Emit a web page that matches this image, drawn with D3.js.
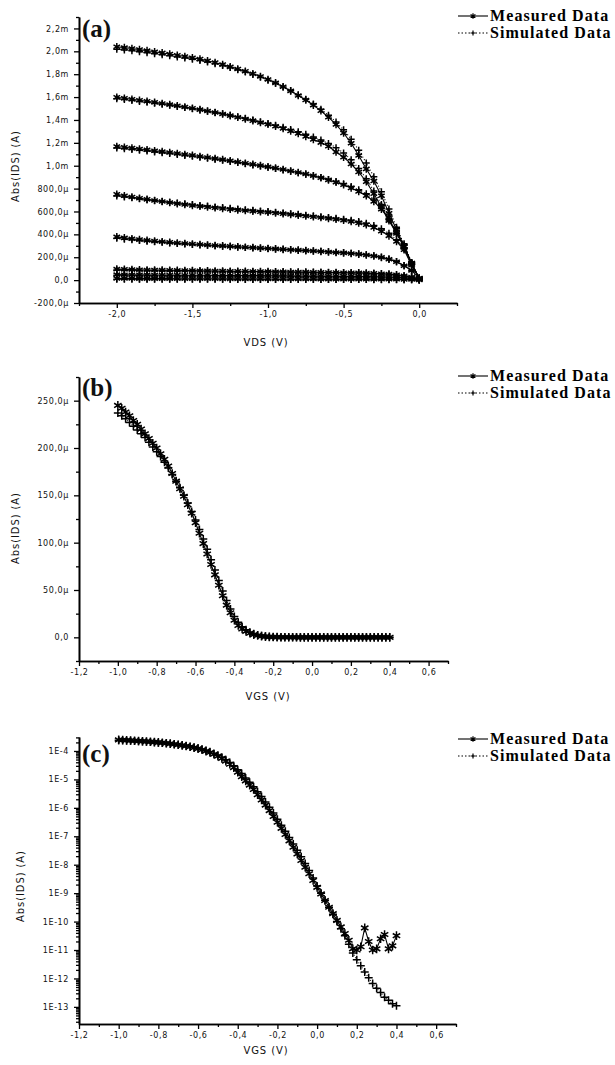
<!DOCTYPE html>
<html><head><meta charset="utf-8">
<script src="https://cdn.jsdelivr.net/npm/d3@7"></script>
<style>body{margin:0;background:#fff}svg{display:block}</style>
</head><body>
<svg id="chart" width="615" height="1065"></svg>
<script>
// ---------- DATA ----------
// Panel (a): output characteristics, VDS in V, |IDS| in µA
const VDS = [-2.00,-1.95,-1.90,-1.85,-1.80,-1.75,-1.70,-1.65,-1.60,-1.55,-1.50,-1.45,-1.40,-1.35,-1.30,-1.25,-1.20,-1.15,-1.10,-1.05,-1.00,-0.95,-0.90,-0.85,-0.80,-0.75,-0.70,-0.65,-0.60,-0.55,-0.50,-0.45,-0.40,-0.35,-0.30,-0.25,-0.20,-0.15,-0.10,-0.05,0.00];
const aMeas1 = [2040,2032,2024,2015,2006,1996,1986,1976,1966,1955,1944,1932,1918,1902,1884,1864,1846,1826,1804,1780,1754,1724,1690,1654,1614,1574,1530,1480,1424,1360,1286,1196,1090,972,866,738,584,440,296,150,15];
const aSim1  = [2018,2011,2004,1996,1988,1979,1970,1961,1951,1941,1930,1919,1906,1892,1876,1858,1839,1819,1797,1773,1748,1720,1689,1656,1620,1582,1540,1493,1441,1382,1314,1232,1136,1024,904,772,622,462,306,152,12];
const aMeas2 = [1598,1590,1581,1572,1563,1554,1544,1534,1524,1513,1502,1490,1478,1465,1452,1438,1424,1409,1394,1378,1362,1345,1326,1304,1281,1256,1230,1202,1170,1120,1075,1015,945,860,755,640,520,408,290,148,15];
const aSim2  = [1585,1578,1570,1562,1554,1545,1537,1528,1518,1509,1499,1488,1477,1466,1454,1441,1428,1414,1400,1385,1370,1353,1336,1317,1297,1275,1251,1224,1194,1158,1112,1052,976,886,780,660,532,408,284,146,12];
const aMeas3 = [1168,1161,1154,1146,1139,1131,1123,1115,1107,1098,1090,1081,1072,1062,1053,1043,1033,1022,1012,1001,990,979,967,954,941,927,912,895,876,856,833,806,775,737,688,620,530,420,295,145,15];
const aSim3  = [1155,1149,1142,1135,1128,1121,1113,1106,1098,1090,1082,1073,1065,1056,1047,1037,1028,1018,1007,997,986,975,963,951,938,925,911,896,880,862,842,818,790,755,710,648,560,448,318,150,12];
const aMeas4 = [750,738,727,716,706,696,687,678,669,661,653,646,639,632,626,620,614,609,603,598,593,587,581,575,568,561,554,547,540,532,523,513,500,484,460,428,387,338,265,130,15];
const aSim4  = [735,727,719,711,703,695,688,681,674,667,660,653,647,640,634,628,622,616,610,605,599,593,587,581,575,568,562,555,548,540,532,523,512,498,478,450,410,352,272,135,12];
const aMeas5 = [378,369,361,354,347,341,335,330,325,320,316,311,307,303,299,295,291,287,284,280,276,273,269,265,262,258,254,250,246,242,238,233,227,220,211,199,183,160,126,85,12];
const aSim5  = [365,358,352,346,340,335,330,325,320,316,312,308,304,300,296,293,289,286,282,279,276,272,269,266,262,259,255,252,248,244,240,235,229,222,213,201,185,162,128,82,10];
const aMeas6 = [96,94,92,91,89,88,87,86,85,84,83,82,81,80,79,78,77,77,76,75,74,73,72,71,70,70,69,68,67,66,65,64,63,61,59,56,52,46,38,26,8];
const aSim6  = [88,87,86,85,84,83,82,81,80,79,79,78,77,76,76,75,74,74,73,72,72,71,70,70,69,68,68,67,66,65,64,63,62,60,58,55,51,45,37,25,6];
const aMeas7 = [48,47,47,46,46,45,45,44,44,43,43,42,42,41,41,40,40,40,39,39,38,38,37,37,36,36,35,35,34,34,33,33,32,31,30,29,27,24,20,14,5];
const aSim7  = [42,42,41,41,41,40,40,40,39,39,39,38,38,38,37,37,37,36,36,36,35,35,35,34,34,34,33,33,33,32,32,31,31,30,29,28,26,23,19,13,4];
const aMeas8 = [14,14,14,13,13,13,13,13,12,12,12,12,12,12,11,11,11,11,11,11,10,10,10,10,10,10,10,9,9,9,9,9,9,8,8,8,7,7,6,5,2];
const aSim8  = [8,8,8,8,8,8,7,7,7,7,7,7,7,7,7,7,6,6,6,6,6,6,6,6,6,6,5,5,5,5,5,5,5,5,4,4,4,4,3,3,1];

// Panels (b) and (c): transfer characteristics, VGS in V, |IDS| in A
const VGS = [-1.00,-0.98,-0.96,-0.94,-0.92,-0.90,-0.88,-0.86,-0.84,-0.82,-0.80,-0.78,-0.76,-0.74,-0.72,-0.70,-0.68,-0.66,-0.64,-0.62,-0.60,-0.58,-0.56,-0.54,-0.52,-0.50,-0.48,-0.46,-0.44,-0.42,-0.40,-0.38,-0.36,-0.34,-0.32,-0.30,-0.28,-0.26,-0.24,-0.22,-0.20,-0.18,-0.16,-0.14,-0.12,-0.10,-0.08,-0.06,-0.04,-0.02,0.00,0.02,0.04,0.06,0.08,0.10,0.12,0.14,0.16,0.18,0.20,0.22,0.24,0.26,0.28,0.30,0.32,0.34,0.36,0.38,0.40];
const tMeas = [2.45e-4,2.42e-4,2.38e-4,2.34e-4,2.29e-4,2.25e-4,2.20e-4,2.15e-4,2.10e-4,2.05e-4,2.00e-4,1.94e-4,1.88e-4,1.81e-4,1.73e-4,1.65e-4,1.57e-4,1.49e-4,1.40e-4,1.31e-4,1.21e-4,1.10e-4,9.9e-5,8.8e-5,7.7e-5,6.6e-5,5.5e-5,4.4e-5,3.4e-5,2.6e-5,1.8e-5,1.25e-5,8.9e-6,6.3e-6,4.4e-6,2.9e-6,1.9e-6,1.25e-6,8.0e-7,5.0e-7,3.1e-7,1.9e-7,1.15e-7,6.9e-8,4.1e-8,2.4e-8,1.4e-8,8.2e-9,4.8e-9,2.8e-9,1.6e-9,9.4e-10,5.5e-10,3.2e-10,1.9e-10,1.1e-10,6.5e-11,3.8e-11,2.2e-11,1.1e-11,1.0e-11,1.3e-11,6.0e-11,2.0e-11,1.0e-11,1.1e-11,2.5e-11,3.5e-11,1.1e-11,1.4e-11,3.2e-11];
const tSim = [2.37e-4,2.34e-4,2.31e-4,2.27e-4,2.23e-4,2.19e-4,2.15e-4,2.11e-4,2.06e-4,2.01e-4,1.96e-4,1.91e-4,1.85e-4,1.79e-4,1.72e-4,1.65e-4,1.58e-4,1.50e-4,1.42e-4,1.33e-4,1.24e-4,1.14e-4,1.04e-4,9.3e-5,8.2e-5,7.1e-5,6.0e-5,4.9e-5,3.9e-5,3.0e-5,2.2e-5,1.6e-5,1.13e-5,7.9e-6,5.5e-6,3.7e-6,2.5e-6,1.6e-6,1.05e-6,6.6e-7,4.0e-7,2.45e-7,1.5e-7,9.0e-8,5.4e-8,3.2e-8,1.9e-8,1.1e-8,6.2e-9,3.4e-9,1.8e-9,1.0e-9,5.6e-10,3.2e-10,1.8e-10,1.0e-10,5.6e-11,3.2e-11,1.6e-11,7.9e-12,4.5e-12,2.8e-12,1.7e-12,1.05e-12,6.6e-13,4.5e-13,3.2e-13,2.2e-13,1.7e-13,1.3e-13,1.1e-13];

// Tick values
const aXTicks = [-2.0,-1.5,-1.0,-0.5,0.0];
const aXMinor = [-2.25,-1.75,-1.25,-0.75,-0.25,0.25];
const aYTicks = [-200,0,200,400,600,800,1000,1200,1400,1600,1800,2000,2200];
const tXTicks = [-1.2,-1.0,-0.8,-0.6,-0.4,-0.2,0.0,0.2,0.4,0.6];
const bYTicks = [0,50e-6,100e-6,150e-6,200e-6,250e-6];
const cYTicks = [1e-13,1e-12,1e-11,1e-10,1e-9,1e-8,1e-7,1e-6,1e-5,1e-4];
const legendLabels = ["Measured Data","Simulated Data"];

// ---------- DRAWING ----------
const svg = d3.select("#chart");
const TICKFONT = "DejaVu Sans, sans-serif";
const starPath = r => { const a = r*0.866, b = r*0.5; return `M0,${-r}V${r}M${-a},${-b}L${a},${b}M${-a},${b}L${a},${-b}`; };
const plusPath = r => `M${-r},0H${r}M0,${-r}V${r}`;
const comma = s => s.replace('.', ',');
const fmtX = v => comma((Math.abs(v) < 1e-9 ? 0 : v).toFixed(1));

function drawAxes(g, x, y, o) {
  const xm = g.append("g").attr("transform", `translate(0,${y.range()[0]})`)
    .call(d3.axisBottom(x).tickValues(o.xMinor).tickSize(3).tickSizeOuter(0).tickFormat(""));
  const ym = g.append("g").attr("transform", `translate(${x.range()[0]},0)`)
    .call(d3.axisLeft(y).tickValues(o.yMinor).tickSize(3).tickSizeOuter(0).tickFormat(""));
  const xa = g.append("g").attr("transform", `translate(0,${y.range()[0]})`)
    .call(d3.axisBottom(x).tickValues(o.xTicks).tickSize(5).tickSizeOuter(0).tickPadding(3).tickFormat(fmtX));
  const ya = g.append("g").attr("transform", `translate(${x.range()[0]},0)`)
    .call(d3.axisLeft(y).tickValues(o.yTicks).tickSize(5).tickSizeOuter(0).tickPadding(5).tickFormat(o.yFmt));
  [xm, ym, xa, ya].forEach(a => {
    a.selectAll("path.domain").attr("stroke", "#000").attr("stroke-width", 1.6);
    a.selectAll(".tick line").attr("stroke", "#000").attr("stroke-width", 1.3);
    a.selectAll("text").attr("font-family", TICKFONT).attr("font-size", 8).attr("fill", "#111").attr("letter-spacing", 0.6);
  });
  g.append("text").attr("x", o.xLab[0]).attr("y", o.xLab[1]).attr("text-anchor", "middle")
    .attr("font-family", TICKFONT).attr("font-size", 10).attr("letter-spacing", 0.9).attr("fill", "#111").text(o.xTitle);
  g.append("text").attr("transform", `translate(${o.yLab[0]},${o.yLab[1]}) rotate(-90)`).attr("text-anchor", "middle")
    .attr("font-family", TICKFONT).attr("font-size", 10).attr("letter-spacing", 0.9).attr("fill", "#111").text("Abs(IDS) (A)");
  g.append("text").attr("x", x.range()[0] + 3).attr("y", o.letterY)
    .attr("font-family", "Liberation Serif, Times New Roman, serif").attr("font-weight", "bold")
    .attr("font-size", 25).attr("fill", "#111").text(o.letter);
}

function drawSeries(g, x, y, xs, ys, kind, r) {
  const pts = xs.map((v, i) => [v, ys[i]]);
  const line = d3.line().x(d => x(d[0])).y(d => y(d[1]));
  g.append("path").datum(pts).attr("d", line).attr("fill", "none").attr("stroke", "#000")
    .attr("stroke-width", 1.1).attr("stroke-dasharray", kind === "sim" ? "1,2" : null);
  g.append("g").selectAll("path").data(pts).join("path")
    .attr("transform", d => `translate(${x(d[0])},${y(d[1])})`)
    .attr("d", kind === "sim" ? plusPath(r) : starPath(r + 0.3))
    .attr("fill", "none").attr("stroke", "#000").attr("stroke-width", 1.5);
}

function drawLegend(y0) {
  const g = svg.append("g");
  legendLabels.forEach((lab, i) => {
    const yy = y0 + i * 17;
    g.append("line").attr("x1", 458).attr("x2", 488).attr("y1", yy).attr("y2", yy)
      .attr("stroke", "#000").attr("stroke-width", 1.1).attr("stroke-dasharray", i ? "1.5,2" : null);
    g.append("path").attr("transform", `translate(473,${yy})`).attr("d", i ? plusPath(2.5) : starPath(2.8))
      .attr("fill", "none").attr("stroke", "#000").attr("stroke-width", 1.2);
    g.append("text").attr("x", 490).attr("y", yy + 5).attr("font-family", "Liberation Serif, Times New Roman, serif")
      .attr("font-weight", "bold").attr("font-size", 16).attr("letter-spacing", 1.1).attr("fill", "#000").text(lab);
  });
}

// ----- Panel (a)
{
  const g = svg.append("g");
  const x = d3.scaleLinear().domain([-2.25, 0.25]).range([79, 457]);
  const y = d3.scaleLinear().domain([-200, 2300]).range([303, 17]);
  const yMinor = d3.range(-100, 2301, 200);
  drawAxes(g, x, y, {
    xTicks: aXTicks, xMinor: aXMinor, yTicks: aYTicks, yMinor: yMinor,
    yFmt: v => v === 0 ? "0,0" : (Math.abs(v) >= 1000 ? comma((v / 1000).toFixed(1)) + "m" : comma(v.toFixed(1)) + "µ"),
    xTitle: "VDS (V)", xLab: [266, 346], yLab: [19, 166], letter: "(a)", letterY: 37
  });
  const meas = [aMeas1, aMeas2, aMeas3, aMeas4, aMeas5, aMeas6, aMeas7, aMeas8];
  const sims = [aSim1, aSim2, aSim3, aSim4, aSim5, aSim6, aSim7, aSim8];
  sims.forEach(s => drawSeries(g, x, y, VDS, s, "sim", 3.5));
  meas.forEach(m => drawSeries(g, x, y, VDS, m, "meas", 3.5));
  drawLegend(16);
}

// ----- Panel (b)
{
  const g = svg.append("g");
  const x = d3.scaleLinear().domain([-1.2, 0.7]).range([79, 448]);
  const y = d3.scaleLinear().domain([-25e-6, 275e-6]).range([661, 377]);
  drawAxes(g, x, y, {
    xTicks: tXTicks, xMinor: d3.range(-1.1, 0.75, 0.2), yTicks: bYTicks, yMinor: d3.range(-25e-6, 276e-6, 50e-6),
    yFmt: v => v === 0 ? "0,0" : comma((v * 1e6).toFixed(1)) + "µ",
    xTitle: "VGS (V)", xLab: [268, 700], yLab: [19, 528], letter: "(b)", letterY: 396
  });
  drawSeries(g, x, y, VGS, tSim, "sim", 4);
  drawSeries(g, x, y, VGS, tMeas, "meas", 4);
  drawLegend(376);
}

// ----- Panel (c)
{
  const g = svg.append("g");
  const x = d3.scaleLinear().domain([-1.2, 0.7]).range([79, 456]);
  const y = d3.scaleLog().domain([2.5e-14, 3.1e-4]).range([1024, 737]);
  const yMinor = [];
  for (let e = -14; e <= -4; e++) for (let m = 2; m <= 9; m++) { const v = m * Math.pow(10, e); if (v >= 2.5e-14 && v <= 3.1e-4) yMinor.push(v); }
  drawAxes(g, x, y, {
    xTicks: tXTicks, xMinor: d3.range(-1.1, 0.75, 0.2), yTicks: cYTicks, yMinor: yMinor,
    yFmt: v => "1E" + Math.round(Math.log10(v)),
    xTitle: "VGS (V)", xLab: [266, 1054], yLab: [24, 886], letter: "(c)", letterY: 762
  });
  drawSeries(g, x, y, VGS, tSim, "sim", 4);
  drawSeries(g, x, y, VGS, tMeas, "meas", 4);
  drawLegend(739);
}
</script>
</body></html>
